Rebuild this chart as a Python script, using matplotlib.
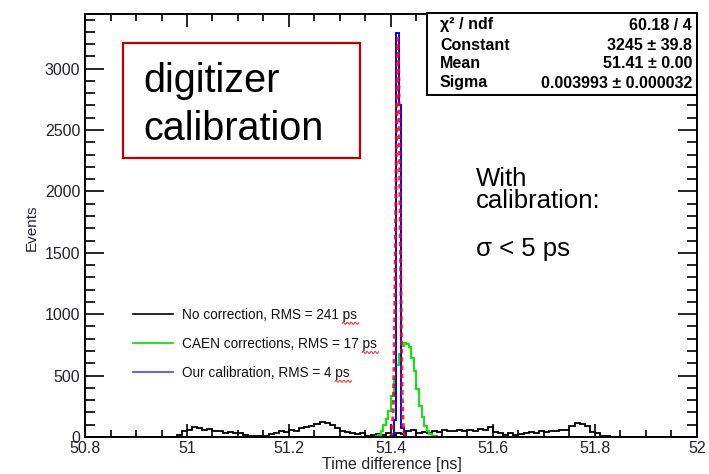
import numpy as np
import matplotlib
matplotlib.use("Agg")
import matplotlib.pyplot as plt
from matplotlib.patches import Rectangle
from matplotlib.ticker import MultipleLocator
from matplotlib.transforms import offset_copy

plt.rcParams['font.family'] = ['Liberation Sans', 'DejaVu Sans']

# === DATA ===
x_min, x_max = 50.8, 52.0
bin_w = 0.005

# no correction: 0.01 ns bins starting at 50.98
raw_start = 50.98
raw_counts = [20, 45, 60, 85, 70, 55, 65, 45, 50, 35, 40, 30, 35, 15, 5, 10, 12, 8,
              25, 30, 45, 40, 55, 50, 70, 80, 90, 105, 120, 110, 95, 70, 50, 40, 35,
              25, 30, 10, 20, 25, 15, 30, 20, 35, 25, 50, 55, 35, 40, 30, 45, 40, 55,
              45, 50, 60, 45, 55, 50, 65, 60, 85, 40, 30, 15, 35, 20, 25, 30, 40, 35,
              45, 40, 50, 45, 55, 60, 90, 115, 105, 90, 40, 30, 10, 5]

# CAEN corrections: 0.005 ns bins starting at 51.37
caen_start = 51.370
caen_counts = [5, 15, 45, 95, 150, 210, 330, 470, 590, 680, 740, 765, 760, 730, 640,
               540, 390, 250, 160, 90, 45, 25, 12, 5, 2]

# our calibration: 0.005 ns bins starting at 51.40
cal_start = 51.400
cal_counts = [20, 140, 3290, 2700, 70, 10]

# gaussian fit result
fit_const, fit_mean, fit_sigma = 3245, 51.4135, 0.003993
fit_chi2, fit_ndf = 60.18, 4

legend_labels = ["No correction, RMS = 241 ps",
                 "CAEN corrections, RMS = 17 ps",
                 "Our calibration, RMS = 4 ps"]


def full_hist(start, counts, width):
    n = int(round((x_max - x_min) / width))
    vals = np.zeros(n)
    i0 = int(round((start - x_min) / width))
    vals[i0:i0 + len(counts)] = counts
    edges = np.linspace(x_min, x_max, n + 1)
    return edges, vals


# === PLOT ===
fig = plt.figure(figsize=(7.09, 4.74), dpi=100)
ax = fig.add_axes([85 / 709, 1 - 437 / 474, 612 / 709, 423 / 474])

dark = "#22222e"
e, v = full_hist(raw_start, raw_counts, 0.01)
ax.stairs(v, e, color="black", lw=1.3)
e, v = full_hist(caen_start, caen_counts, bin_w)
ax.stairs(v, e, color="#00ee00", lw=1.4)
e, v = full_hist(cal_start, cal_counts, bin_w)
ax.stairs(v, e, color="#0000ff", lw=1.4)

xf = np.linspace(fit_mean - 4 * fit_sigma, fit_mean + 4 * fit_sigma, 400)
yf = fit_const * np.exp(-0.5 * ((xf - fit_mean) / fit_sigma) ** 2)
ax.plot(xf, yf, color="#ff0000", lw=2.2, ls=(0, (1.5, 1.2)), alpha=0.85)

ax.set_xlim(x_min, x_max)
ax.set_ylim(0, 3445)
ax.xaxis.set_minor_locator(MultipleLocator(0.05))
ax.yaxis.set_major_locator(MultipleLocator(500))
ax.yaxis.set_minor_locator(MultipleLocator(100))
ax.set_xticks(np.arange(50.8, 52.01, 0.2))
ax.set_xticklabels(["50.8", "51", "51.2", "51.4", "51.6", "51.8", "52"])
ax.tick_params(which="both", direction="in", top=True, right=True, width=1.2,
               colors="black", labelcolor=dark, labelsize=11.5)
ax.tick_params(axis="x", which="major", length=9.5, pad=3)
ax.tick_params(axis="x", which="minor", length=4.7)
ax.tick_params(axis="y", which="major", length=14)
ax.tick_params(axis="y", which="minor", length=7)
for s in ax.spines.values():
    s.set_linewidth(1.4)

fig.text(392 / 709, 1 - 464 / 474, "Time difference [ns]", ha="center", va="center",
         fontsize=11.5, color=dark)
fig.text(32 / 709, 1 - 228 / 474, "Events", ha="center", va="center", rotation=90,
         fontsize=11, color=dark)

# legend with red wavy underline under "ps"
leg_colors = ["black", "#00dd00", "#4444ff"]
leg_y = [0.291, 0.222, 0.154]
text_tr = offset_copy(ax.transAxes, fig=fig, y=-3.5, units="points")
fig.canvas.draw()
renderer = fig.canvas.get_renderer()
for lab, c, yy in zip(legend_labels, leg_colors, leg_y):
    ax.plot([0.078, 0.144], [yy, yy], color=c, lw=1.2, transform=ax.transAxes)
    t = ax.text(0.158, yy, lab, transform=text_tr, va="baseline", ha="left",
                fontsize=9.8, color="#111111")
    head = ax.text(0.158, yy, lab[:-2], transform=text_tr, va="baseline",
                   ha="left", fontsize=9.8)
    x0 = head.get_window_extent(renderer).x1
    x1 = t.get_window_extent(renderer).x1
    head.remove()
    base = text_tr.transform((0, yy))[1]
    wx = np.linspace(x0, x1 + 2, 60)
    wy = base - 4.5 + 1.0 * np.sin((wx - x0) / 4.0 * 2 * np.pi)
    ax.plot(wx, wy, color="#ff3030", lw=0.8, transform=None)

# title box
fig.patches.append(Rectangle((123 / 709, 1 - 158 / 474), 237 / 709, 115 / 474,
                             transform=fig.transFigure, fill=False, ec="#c00000", lw=1.6))
fig.text(143 / 709, 1 - 92 / 474, "digitizer", fontsize=28.5, va="baseline")
fig.text(143 / 709, 1 - 140 / 474, "calibration", fontsize=28.5, va="baseline")

# annotation
fig.text(476 / 709, 1 - 186 / 474, "With", fontsize=18.5, va="baseline")
fig.text(476 / 709, 1 - 208 / 474, "calibration:", fontsize=18.5, va="baseline")
fig.text(476 / 709, 1 - 256 / 474, "σ < 5 ps", fontsize=18.5, va="baseline")

# fit statistics box
fig.patches.append(Rectangle((427 / 709, 1 - 95 / 474), 270 / 709, 82 / 474,
                             transform=fig.transFigure, fc="white", ec="black", lw=1.4,
                             zorder=5))
stats = [("χ² / ndf", f"{fit_chi2:.2f} / {fit_ndf}"),
         ("Constant", f"{fit_const} ± 39.8"),
         ("Mean", f"{fit_mean:.2f} ± 0.00"),
         ("Sigma", f"{fit_sigma:.6f} ± 0.000032")]
for (k, val), yy in zip(stats, [25, 45, 64, 83]):
    fig.text(440 / 709, 1 - yy / 474, k, fontsize=11.5, fontweight="bold", va="center",
             ha="left", zorder=6)
    fig.text(692 / 709, 1 - yy / 474, val, fontsize=11.5, fontweight="bold", va="center",
             ha="right", zorder=6)

fig.savefig("out.png", dpi=100)
